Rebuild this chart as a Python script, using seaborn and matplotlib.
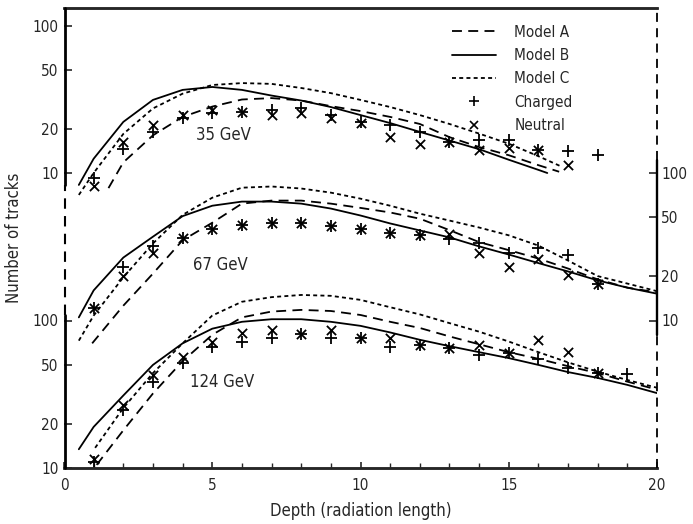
import numpy as np
import matplotlib
matplotlib.use("Agg")
import matplotlib.pyplot as plt
from matplotlib.lines import Line2D
from matplotlib import font_manager as fm
import seaborn as sns

# ---------------- data ----------------
# measured track counts at integer depths (radiation lengths)
depth_pts = list(range(1, 20))
nan = np.nan

charged_35 = [9.2, 14.5, 19, 23.6, 25.5, 25.9, 26.7, 27.6, 24.7, 22, 21.2, 19, 16.2, 16.7, 16.7, 14.3, 14.1, 13.2, nan]
neutral_35 = [8.2, 16.2, 21.2, 24.7, 26.7, 25.9, 24.7, 25.5, 23.6, 21.8, 17.5, 15.7, 16.2, 14.3, 14.8, 14.3, 11.3, nan, nan]

charged_67 = [12.2, 22.9, 32.2, 36, 42, 44.2, 46, 46, 43.4, 42, 38.9, 37.8, 35.9, 33.3, 28.9, 31.2, 27.6, 17.8, nan]
neutral_67 = [12.2, 19.9, 28.9, 36, 42, 44.2, 46, 46, 43.4, 42, 38.9, 37.8, 38.3, 28.5, 23.2, 26.3, 20.5, 17.8, nan]

charged_124 = [11, 24.7, 38.3, 51.5, 66, 72, 76, 81, 76, 76, 66, 68, 65, 58, 60, 54.8, 47.6, 44, 43.4]
neutral_124 = [11.5, 26.7, 42.7, 56.5, 72, 82, 86, 81, 86, 76, 76, 68, 65, 68, 60, 73.6, 61, 44, nan]

# model predictions
full_depth = [0.5] + list(range(1, 21))

depth_35_B = [0.5, 1, 2, 3, 4, 5, 6, 7, 8, 9, 10, 11, 12, 13, 14, 15, 16, 16.3]
model_35_B = [8.3, 12.5, 22.2, 31.3, 36.6, 38.3, 36.6, 33.5, 31, 28, 24.7, 21.8, 19, 16.6, 14.5, 12.3, 10.5, 10]
depth_35_A = [1.5, 2, 3, 4, 5, 6, 7, 8, 9, 10, 11, 12, 13, 14, 15, 16, 16.7]
model_35_A = [7.9, 11.8, 18, 24, 28.2, 31.5, 32.2, 31, 28.4, 26.3, 24, 21.5, 17.5, 15, 13.2, 11.3, 10.2]
depth_35_C = [0.5, 1, 2, 3, 4, 5, 6, 7, 8, 9, 10, 11, 12, 13, 14, 15, 16, 16.8]
model_35_C = [7.1, 10, 18.4, 27.4, 34.5, 39.5, 40.7, 40.2, 37.7, 34.8, 31.3, 28, 24.7, 21.5, 18.5, 15.8, 13, 11]

depth_67_B = full_depth
model_67_B = [10.5, 16, 26.7, 37, 51, 60, 64, 64, 62, 57.4, 51.5, 45.5, 40.8, 36.6, 31.8, 28, 24.5, 21.5, 18.7, 16.7, 15.2]
depth_67_A = [0.95] + list(range(2, 21))
model_67_A = [7, 12.6, 20.8, 35, 46, 62, 65, 65, 62, 58, 54, 49, 41, 34, 30, 26.3, 22.5, 19, 16.7, 15.5]
depth_67_C = full_depth
model_67_C = [7.3, 10.8, 19.6, 33.3, 52, 68, 79.5, 81, 78.5, 73.6, 67, 60, 53, 47.6, 42.7, 37.8, 32.2, 25.5, 20, 17.8, 15.8]

depth_124_B = full_depth
model_124_B = [13.4, 19, 31, 50, 70, 88, 98, 102, 102, 98, 92, 83, 74, 67, 61, 55.6, 50, 44.7, 40.8, 36.6, 32.2]
depth_124_A = [1.1] + list(range(2, 21))
model_124_A = [10.5, 18, 32, 53, 80, 105, 115, 118, 116, 109, 98, 89, 78, 69, 61, 55, 49, 44, 38.5, 34]
depth_124_C = [1.05] + list(range(2, 21))
model_124_C = [13.7, 25.5, 44, 70, 108, 134, 144, 149, 147, 138, 123, 110, 96, 84, 72, 61, 52, 45, 39.5, 35]

energy_labels = ["35 GeV", "67 GeV", "124 GeV"]
scale_ticks = [10, 20, 50, 100]
legend_labels = ["Model A", "Model B", "Model C", "Charged", "Neutral"]

# ---------------- style ----------------
sns.set_style("ticks")
names = {f.name for f in fm.fontManager.ttflist}
if "Liberation Sans Narrow" in names:
    plt.rcParams["font.family"] = ["Liberation Sans Narrow", "DejaVu Sans"]
    fs_tick, fs_lab = 13, 14
else:
    plt.rcParams["font.family"] = ["DejaVu Sans"]
    plt.rcParams["font.stretch"] = "condensed"
    fs_tick, fs_lab = 11, 12

LW = 1.3
styles = {
    "A": (0, (5.5, 3.5)),
    "B": "-",
    "C": (0, (2.2, 1.8)),
}

FIG_W, FIG_H = 693, 524
AX_L, AX_B, AX_W, AX_H = 64, 56, 593, 460
fig = plt.figure(figsize=(FIG_W / 100, FIG_H / 100), dpi=100)
ax = fig.add_axes([AX_L / FIG_W, AX_B / FIG_H, AX_W / FIG_W, AX_H / FIG_H])

# each energy is drawn one decade apart on a shared log axis
groups = [
    (100, depth_35_A, model_35_A, depth_35_B, model_35_B, depth_35_C, model_35_C, charged_35, neutral_35),
    (10, depth_67_A, model_67_A, depth_67_B, model_67_B, depth_67_C, model_67_C, charged_67, neutral_67),
    (1, depth_124_A, model_124_A, depth_124_B, model_124_B, depth_124_C, model_124_C, charged_124, neutral_124),
]

for off, dA, mA, dB, mB, dC, mC, ch, ne in groups:
    for key, d, m in (("A", dA, mA), ("B", dB, mB), ("C", dC, mC)):
        sns.lineplot(x=d, y=np.array(m) * off, ax=ax, color="black", lw=LW,
                     linestyle=styles[key], sort=False, estimator=None)
    sns.scatterplot(x=depth_pts, y=np.array(ch) * off, ax=ax, marker="+", s=64,
                    color="black", linewidth=1.3)
    sns.scatterplot(x=depth_pts, y=np.array(ne) * off, ax=ax, marker="x", s=44,
                    color="black", linewidth=1.3)

ax.set_yscale("log")
ymin, ymax = 10, 10 ** (1 + AX_H / 147.5)
ax.set_ylim(ymin, ymax)
ax.set_xlim(0, 20)

# left scale: lower (124 GeV) and upper (35 GeV) decades
ax.set_yticks(scale_ticks + [t * 100 for t in scale_ticks])
ax.set_yticklabels([str(t) for t in scale_ticks] * 2)
ax.yaxis.set_minor_locator(matplotlib.ticker.NullLocator())
ax.tick_params(axis="y", which="major", direction="in", length=6, width=1.2,
               labelsize=fs_tick, pad=4)

ax.set_xticks([0, 5, 10, 15, 20])
ax.set_xticks(range(1, 20), minor=True)
ax.tick_params(axis="x", which="major", direction="in", length=4, width=1.2,
               labelsize=fs_tick, pad=7)
ax.tick_params(axis="x", which="minor", direction="in", length=3.5, width=1.0)

# right scale: middle (67 GeV) decade
ax2 = ax.twinx()
ax2.set_yscale("log")
ax2.set_ylim(ymin, ymax)
ax2.set_yticks([t * 10 for t in scale_ticks])
ax2.set_yticklabels([str(t) for t in scale_ticks])
ax2.yaxis.set_minor_locator(matplotlib.ticker.NullLocator())
ax2.tick_params(axis="y", which="major", direction="in", length=6, width=1.2,
                labelsize=fs_tick, pad=3)

# frame: solid where a scale applies, dashed elsewhere
for a in (ax, ax2):
    for s in ("left", "right"):
        a.spines[s].set_visible(False)
    a.spines["top"].set_linewidth(1.8)
    a.spines["bottom"].set_linewidth(1.8)


def fig_y(v):
    f = (np.log10(v) - np.log10(ymin)) / (np.log10(ymax) - np.log10(ymin))
    return (AX_B + f * AX_H) / FIG_H


x_left = (AX_L + 1.0) / FIG_W
x_right = (AX_L + AX_W) / FIG_W
y_bot, y_top = AX_B / FIG_H, (AX_B + AX_H) / FIG_H
dash = (0, (5, 3.5))
frame_segments = [
    (x_left, y_bot, fig_y(109), "-", 2.0),
    (x_left, fig_y(109), fig_y(830), dash, 1.5),
    (x_left, fig_y(830), y_top, "-", 2.0),
    (x_right, y_bot, fig_y(80), dash, 1.3),
    (x_right, fig_y(80), fig_y(1225), "-", 1.7),
    (x_right, fig_y(1225), y_top, dash, 1.3),
]
for xf, y0, y1, ls, lw in frame_segments:
    fig.add_artist(Line2D([xf, xf], [y0, y1], transform=fig.transFigure, color="black",
                          lw=lw, ls=ls, zorder=10))

# energy labels
ax.text(4.45, 18.1 * 100, energy_labels[0], fontsize=fs_lab, va="center", ha="left")
ax.text(4.35, 23.6 * 10, energy_labels[1], fontsize=fs_lab, va="center", ha="left")
ax.text(4.25, 38.3, energy_labels[2], fontsize=fs_lab, va="center", ha="left")

ax.set_xlabel("Depth (radiation length)", fontsize=fs_lab, labelpad=7)
ax.set_ylabel("Number of tracks", fontsize=fs_lab, labelpad=7)

handles = [
    Line2D([], [], color="black", lw=LW, ls=styles["A"]),
    Line2D([], [], color="black", lw=LW, ls=styles["B"]),
    Line2D([], [], color="black", lw=LW, ls=styles["C"]),
    Line2D([], [], color="black", lw=0, marker="+", markersize=7.5, markeredgewidth=1.2),
    Line2D([], [], color="black", lw=0, marker="x", markersize=6.3, markeredgewidth=1.2),
]
ax.legend(handles, legend_labels, loc="upper left", bbox_to_anchor=(0.654, 0.964),
          frameon=False, fontsize=fs_tick, handlelength=2.9, handletextpad=1.2,
          labelspacing=0.55, borderpad=0, borderaxespad=0)

fig.savefig("out.png", dpi=100)
